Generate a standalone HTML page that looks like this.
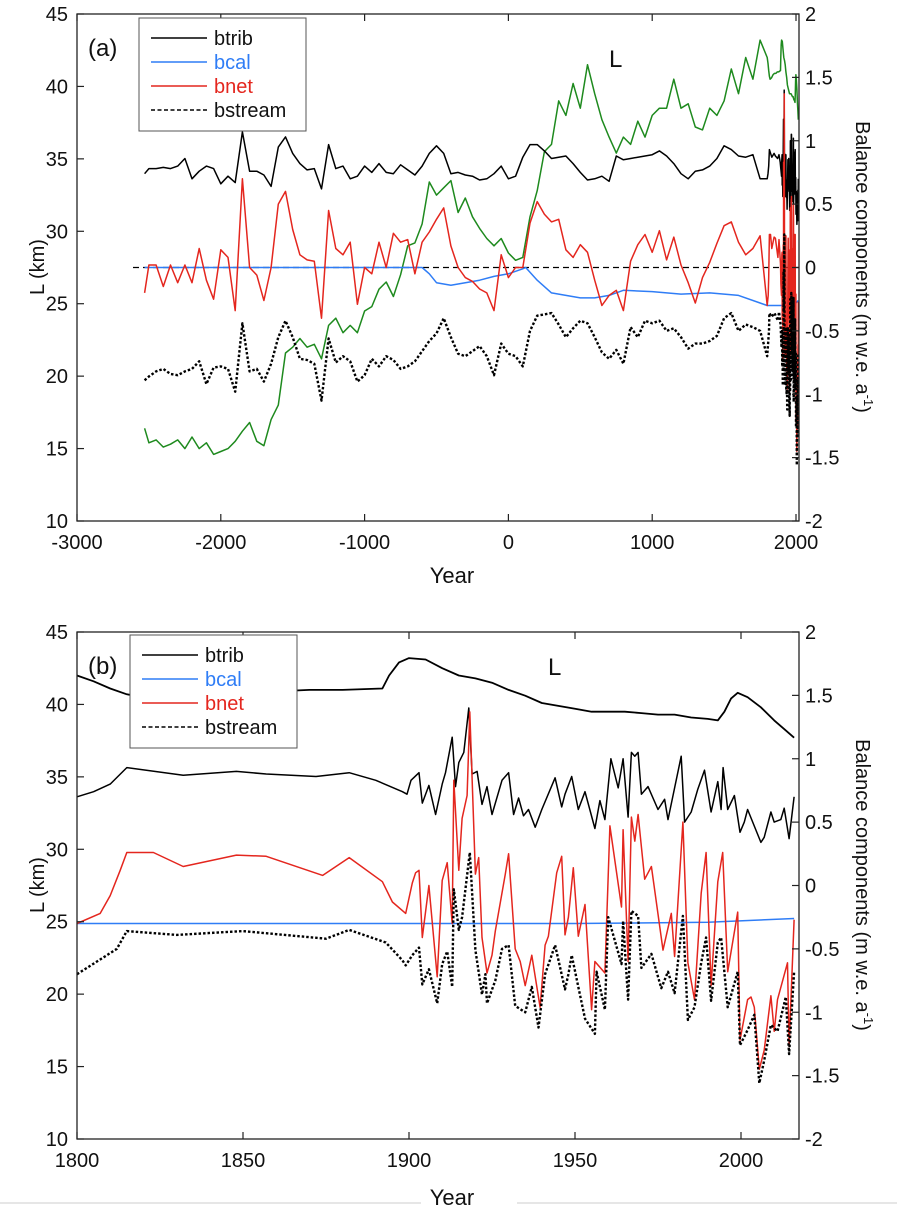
<!DOCTYPE html>
<html><head><meta charset="utf-8"><style>
html,body{margin:0;padding:0;background:#fff;}
svg{display:block;font-family:"Liberation Sans",Arial,sans-serif;}
</style></head><body>
<svg id="fig" width="897" height="1206" viewBox="0 0 897 1206" xmlns="http://www.w3.org/2000/svg"></svg>
<script>
// ---------- Panel (a) data (50-yr sampled) ----------
const aYears = [-2530,-2500,-2450,-2400,-2350,-2300,-2250,-2200,-2150,-2100,-2050,-2000,-1950,-1900,-1850,-1800,-1750,-1700,-1650,-1600,-1550,-1500,-1450,-1400,-1350,-1300,-1250,-1200,-1150,-1100,-1050,-1000,-950,-900,-850,-800,-750,-700,-650,-600,-550,-500,-450,-400,-350,-300,-250,-200,-150,-100,-50,0,50,100,150,200,250,300,350,400,450,500,550,600,650,700,750,800,850,900,950,1000,1050,1100,1150,1200,1250,1300,1350,1400,1450,1500,1550,1600,1650,1700,1750];
const aLength = [16.4,15.4,15.6,15.1,15.3,15.6,15.0,15.8,15.0,15.4,14.6,14.8,15.0,15.5,16.2,16.8,15.5,15.2,17.0,18.0,21.6,22.0,22.6,22.0,22.2,21.2,23.5,24.0,23.0,23.5,23.0,24.5,24.8,26.0,26.5,25.5,27.0,29.0,29.2,30.5,33.4,32.5,33.0,33.5,31.3,32.3,31.0,30.2,29.5,29.0,29.5,28.5,28.0,28.2,31.0,32.8,35.5,36.0,39.0,38.0,40.2,38.5,41.5,39.5,37.7,36.5,35.4,36.5,36.0,37.6,36.5,38.0,38.5,38.5,40.5,38.5,38.8,37.2,37.0,38.5,38.0,39.0,41.2,39.5,42.0,40.5,43.2];
const aBtrib = [0.74,0.78,0.78,0.79,0.78,0.8,0.86,0.7,0.76,0.8,0.78,0.66,0.72,0.67,1.07,0.76,0.76,0.73,0.64,0.95,1.03,0.9,0.82,0.77,0.78,0.62,0.97,0.78,0.8,0.7,0.72,0.8,0.75,0.82,0.75,0.74,0.81,0.77,0.73,0.8,0.9,0.96,0.9,0.74,0.75,0.73,0.72,0.69,0.7,0.74,0.8,0.7,0.72,0.87,0.97,0.97,0.92,0.86,0.87,0.88,0.82,0.75,0.69,0.7,0.72,0.68,0.88,0.85,0.86,0.87,0.88,0.89,0.92,0.88,0.82,0.74,0.7,0.76,0.77,0.8,0.86,0.96,0.93,0.88,0.87,0.89,0.7];
const aBnet = [-0.2,0.02,0.02,-0.15,0.02,-0.12,0.02,-0.12,0.15,-0.1,-0.25,0.14,0.08,-0.34,0.7,0.0,-0.06,-0.26,0.0,0.5,0.6,0.3,0.1,0.06,0.05,-0.4,0.45,0.15,0.1,0.2,-0.29,0.0,-0.05,0.2,0.0,0.27,0.2,0.22,-0.05,0.2,0.28,0.38,0.47,0.17,0.0,-0.08,-0.11,-0.17,-0.2,-0.34,0.1,-0.08,0.0,0.0,0.35,0.52,0.42,0.36,0.38,0.14,0.08,0.18,0.12,-0.1,-0.3,-0.22,-0.18,-0.34,0.05,0.18,0.26,0.12,0.29,0.06,0.24,0.02,-0.12,-0.28,-0.08,0.04,0.19,0.33,0.36,0.2,0.1,0.15,0.25];
const aBstream = [-0.89,-0.86,-0.82,-0.8,-0.84,-0.85,-0.82,-0.8,-0.74,-0.92,-0.79,-0.78,-0.8,-0.98,-0.44,-0.82,-0.8,-0.9,-0.76,-0.55,-0.42,-0.55,-0.72,-0.73,-0.76,-1.05,-0.56,-0.75,-0.7,-0.74,-0.9,-0.85,-0.72,-0.78,-0.7,-0.73,-0.8,-0.78,-0.74,-0.66,-0.58,-0.52,-0.4,-0.55,-0.68,-0.7,-0.66,-0.62,-0.7,-0.85,-0.6,-0.68,-0.7,-0.78,-0.5,-0.38,-0.37,-0.36,-0.45,-0.55,-0.48,-0.42,-0.44,-0.55,-0.67,-0.72,-0.65,-0.76,-0.47,-0.55,-0.42,-0.44,-0.42,-0.5,-0.48,-0.55,-0.64,-0.6,-0.6,-0.58,-0.54,-0.4,-0.36,-0.5,-0.45,-0.47,-0.5];
const aBcalYears = [-2530,-600,-550,-500,-400,-300,-200,-100,0,100,120,200,300,400,500,600,700,800,1000,1200,1400,1600,1750];
const aBcal = [0,0,-0.05,-0.12,-0.14,-0.12,-0.1,-0.07,-0.05,-0.01,0,-0.1,-0.2,-0.22,-0.24,-0.24,-0.22,-0.18,-0.19,-0.21,-0.2,-0.22,-0.28];

// ---------- Panel (b) data (1800-2016) ----------
const bLenYears = [1800,1805,1810,1815,1820,1830,1840,1850,1860,1870,1880,1892,1894,1897,1900,1905,1910,1915,1920,1925,1930,1935,1940,1945,1950,1955,1960,1965,1970,1975,1980,1985,1990,1993,1995,1997,1999,2002,2006,2010,2013,2016];
const bLength = [42,41.6,41.1,40.7,40.5,40.6,40.8,40.9,40.9,41.0,41.0,41.1,42.0,42.9,43.2,43.1,42.5,42.0,41.8,41.5,41.0,40.6,40.1,39.9,39.7,39.5,39.5,39.5,39.4,39.3,39.3,39.1,39.0,38.9,39.5,40.4,40.8,40.5,39.8,38.9,38.3,37.7];
const bTribYears = [1800,1805,1810,1815,1832,1848,1857,1872,1882,1890,1898,1899.4,1900.6,1903,1904,1906,1908,1910,1911,1913,1914,1915,1916.5,1918,1919,1920.5,1922,1923.5,1925,1928,1930,1931.5,1933,1934.5,1936,1938,1940,1944,1946,1947,1949,1951,1953,1956,1957.5,1959,1960.8,1963,1964.5,1966,1967,1968,1969,1970,1972,1975,1977,1978,1982,1983,1985,1987,1989,1991,1993,1994,1994.6,1996,1998,1999.7,2001,2002,2006,2007,2009,2010,2012,2013,2014.5,2016];
const bTrib = [0.7,0.74,0.8,0.93,0.87,0.9,0.88,0.86,0.89,0.83,0.74,0.72,0.83,0.89,0.65,0.79,0.56,0.8,0.89,1.17,0.78,0.97,1.05,1.4,0.88,0.9,0.64,0.78,0.56,0.83,0.89,0.56,0.69,0.55,0.6,0.46,0.6,0.85,0.62,0.72,0.86,0.6,0.74,0.45,0.67,0.52,1.0,0.77,1.0,0.54,1.05,1.02,1.05,0.72,0.78,0.6,0.68,0.52,1.02,0.5,0.58,0.76,0.91,0.58,0.82,0.6,0.93,0.6,0.71,0.42,0.5,0.6,0.34,0.38,0.58,0.5,0.52,0.61,0.37,0.7];
const bNetYears = [1800,1807,1810,1813,1815,1823,1832,1848,1857,1874,1882,1892,1895,1899,1901,1902,1903,1904,1906,1908.5,1910,1911.5,1913,1913.5,1915,1916,1917.5,1918.3,1920,1921,1922,1923.5,1925,1926,1929,1930,1932,1933.5,1935,1937,1939.5,1941,1942,1944.5,1946,1947,1948,1949.5,1951,1953,1955,1956,1959,1960.5,1964,1964.5,1966,1967,1968,1969,1971,1973,1976.5,1979,1980,1982.5,1984,1986,1988,1989.5,1991,1993,1994.5,1996,1999,1999.7,2002,2003,2004,2005.5,2007,2009,2010,2011,2014,2014.5,2016];
const bNet = [-0.3,-0.22,-0.08,0.12,0.26,0.26,0.15,0.24,0.23,0.08,0.22,0.03,-0.13,-0.22,0.02,0.1,0.12,-0.41,0.0,-0.72,0.04,0.18,-0.3,0.83,0.12,0.53,0.71,1.37,0.09,0.22,-0.41,-0.69,-0.55,-0.36,0.09,0.25,-0.5,-0.6,-0.79,-0.55,-0.96,-0.47,-0.4,0.1,0.23,-0.39,-0.25,0.14,-0.4,-0.15,-0.98,-0.6,-0.69,0.47,-0.17,0.44,-0.6,0.54,0.35,0.56,0.05,0.15,-0.51,-0.22,-0.56,0.5,-0.61,-0.9,-0.06,0.26,-0.79,0.03,0.26,-0.68,-0.21,-1.22,-0.9,-0.88,-0.96,-1.45,-1.3,-0.87,-1.15,-0.9,-0.61,-1.27,-0.27];
const bStreamYears = [1800,1812,1815,1830,1850,1875,1882,1893,1898,1899,1901,1903,1904,1906,1908.5,1910,1911.5,1913,1913.5,1915,1916,1918.3,1920,1922,1923,1923.5,1926,1928,1930,1932,1935,1937,1939,1941,1944,1947,1948,1949,1951,1953,1956,1956.5,1959,1960,1964,1964.5,1966,1967,1969,1970,1973,1976,1978,1980,1982.5,1984,1986,1988,1989.5,1991,1993,1994,1996,1999,1999.7,2002,2004,2005.5,2007,2009,2011,2013.5,2014.5,2016];
const bStream = [-0.7,-0.5,-0.36,-0.39,-0.36,-0.42,-0.35,-0.45,-0.59,-0.63,-0.55,-0.49,-0.78,-0.66,-0.93,-0.62,-0.52,-0.8,-0.03,-0.35,-0.25,0.26,-0.51,-0.86,-0.7,-0.93,-0.75,-0.5,-0.47,-0.95,-1.0,-0.8,-1.12,-0.7,-0.47,-0.82,-0.7,-0.55,-0.8,-1.05,-1.17,-0.68,-0.98,-0.25,-0.62,-0.28,-0.9,-0.2,-0.24,-0.65,-0.54,-0.81,-0.68,-0.85,-0.24,-1.06,-0.96,-0.61,-0.41,-0.91,-0.45,-0.41,-0.96,-0.68,-1.26,-1.14,-1.02,-1.56,-1.38,-1.1,-1.15,-0.88,-1.33,-0.68];
const bCalYears = [1800,1850,1900,1950,1990,2016];
const bCal = [-0.3,-0.3,-0.3,-0.3,-0.29,-0.26];

// ---------- ticks ----------
const leftTicks = [10,15,20,25,30,35,40,45];
const rightTicks = [-2,-1.5,-1,-0.5,0,0.5,1,1.5,2];
const aXTicks = [-3000,-2000,-1000,0,1000,2000];
const bXTicks = [1800,1850,1900,1950,2000];

const NS = "http://www.w3.org/2000/svg";
const svg = document.getElementById('fig');
function el(tag, attrs, parent){ const e=document.createElementNS(NS,tag); for(const k in attrs) e.setAttribute(k,attrs[k]); (parent||svg).appendChild(e); return e; }

const L=77, R=799;
function makePanel(cfg){
  const top=cfg.top, bot=cfg.top+507;
  const yL = v => bot - (v-10)*(507/35);
  const yR = v => top + 253.5 - v*(507/4);
  const x = cfg.x;
  const g = el('g',{});
  
  
  function line(xs, vs, yf, color, w, dash, name){
    const n=Math.min(xs.length,vs.length);
    let d=''; for(let i=0;i<n;i++){ d+=(i?'L':'M')+x(xs[i]).toFixed(1)+','+yf(vs[i]).toFixed(1); }
    const p=el('path',{d:d,fill:'none',stroke:color,'stroke-width':w,'stroke-linejoin':'round'},g);
    if(dash) p.setAttribute('stroke-dasharray',dash);
    
    
  }
  if(cfg.zeroLine){
    const z=el('line',{x1:133,x2:R,y1:yR(0),y2:yR(0),stroke:'#000','stroke-width':1.3,'stroke-dasharray':'6,4'},g);
    
    
  }
  cfg.series.forEach(s=>line(s.xs,s.vs,s.axis==='L'?yL:yR,s.color,s.w,s.dash,s.name));
  const fr=el('rect',{x:L,y:top,width:R-L,height:bot-top,fill:'none',stroke:'#222','stroke-width':1.3},g);
  
  
  leftTicks.forEach(v=>{
    el('line',{x1:L,x2:L+7,y1:yL(v),y2:yL(v),stroke:'#222','stroke-width':1.2},g);
    const t=el('text',{x:68,y:yL(v)+7,'text-anchor':'end','font-size':20,fill:'#111'},g); t.textContent=v;
    
    
  });
  rightTicks.forEach(v=>{
    el('line',{x1:R-7,x2:R,y1:yR(v),y2:yR(v),stroke:'#222','stroke-width':1.2},g);
    const t=el('text',{x:805,y:yR(v)+7,'font-size':20,fill:'#111'},g); t.textContent=v;
    
    
  });
  cfg.xTicks.forEach(v=>{
    const xx=x(v);
    el('line',{x1:xx,x2:xx,y1:bot,y2:bot-7,stroke:'#222','stroke-width':1.2},g);
    el('line',{x1:xx,x2:xx,y1:top,y2:top+7,stroke:'#222','stroke-width':1.2},g);
    const t=el('text',{x:xx,y:bot+28,'text-anchor':'middle','font-size':20,fill:'#111'},g); t.textContent=v;
    
    
  });
  const yt=el('text',{transform:`translate(44,${top+253}) rotate(-90)`,'text-anchor':'middle','font-size':20,fill:'#111'},g); yt.textContent='L (km)';
  
  
  const rt=el('text',{transform:`translate(856,${top+253}) rotate(90)`,'text-anchor':'middle','font-size':20,fill:'#111'},g);
  rt.innerHTML='Balance components (m w.e. a<tspan dy="-8" font-size="13">-1</tspan><tspan dy="8">)</tspan>';
  
  
  const xt=el('text',{x:452,y:cfg.yearY,'text-anchor':'middle','font-size':22,fill:'#111'},g); xt.textContent='Year';
  
  
  const pl=el('text',{x:88,y:top+42,'font-size':24,fill:'#111'},g); pl.textContent=cfg.label;
  
  
  const lm=el('text',{x:cfg.Lx,y:cfg.Ly,'font-size':24,fill:'#111'},g); lm.textContent='L';
  
  
  const lg=el('g',{},g);
  
  
  const lx=cfg.leg[0], ly=cfg.leg[1];
  el('rect',{x:lx,y:ly,width:167,height:113,fill:'#fff',stroke:'#555','stroke-width':1},lg);
  const ents=[['btrib','#000','#111',null],['bcal','#2f7df6','#2f7df6',null],['bnet','#e4261e','#e4261e',null],['bstream','#000','#111','4,2.5']];
  ents.forEach((e,i)=>{
    const yy=ly+20+i*24;
    const ln=el('line',{x1:lx+12,x2:lx+68,y1:yy,y2:yy,stroke:e[1],'stroke-width':1.6},lg);
    if(e[3]) ln.setAttribute('stroke-dasharray',e[3]);
    
    
    const t=el('text',{x:lx+75,y:yy+7,'font-size':20,fill:e[2]},lg); t.textContent=e[0];
    
    
  });
}

const xa = yr => 77 + (yr+3000)*0.1438;
const xb = yr => 77 + (yr-1800)*3.32;
const cat = (a,b)=>a.concat(b);

makePanel({name:'panel-a',top:14,x:xa,xTicks:aXTicks,yearY:583,label:'(a)',Lx:609,Ly:67,leg:[139,18],zeroLine:true,
  series:[
    {xs:cat(aYears,bLenYears),vs:cat(aLength,bLength),axis:'L',color:'#1e8a1e',w:1.5,name:'glacier-length-line'},
    {xs:cat(aYears,bTribYears),vs:cat(aBtrib,bTrib),axis:'R',color:'#000',w:1.5,name:'btrib-line'},
    {xs:cat(aBcalYears,bCalYears),vs:cat(aBcal,bCal),axis:'R',color:'#2f7df6',w:1.5,name:'bcal-line'},
    {xs:cat(aYears,bNetYears),vs:cat(aBnet,bNet),axis:'R',color:'#e4261e',w:1.5,name:'bnet-line'},
    {xs:cat(aYears,bStreamYears),vs:cat(aBstream,bStream),axis:'R',color:'#000',w:2.4,dash:'2.5,2',name:'bstream-line'}
  ]});
makePanel({name:'panel-b',top:632,x:xb,xTicks:bXTicks,yearY:1205,label:'(b)',Lx:548,Ly:675,leg:[130,635],zeroLine:false,
  series:[
    {xs:bLenYears,vs:bLength,axis:'L',color:'#000',w:1.8,name:'glacier-length-line'},
    {xs:bCalYears,vs:bCal,axis:'R',color:'#2f7df6',w:1.5,name:'bcal-line'},
    {xs:bTribYears,vs:bTrib,axis:'R',color:'#000',w:1.5,name:'btrib-line'},
    {xs:bNetYears,vs:bNet,axis:'R',color:'#e4261e',w:1.5,name:'bnet-line'},
    {xs:bStreamYears,vs:bStream,axis:'R',color:'#000',w:2.4,dash:'2.5,2',name:'bstream-line'}
  ]});
const sep1=el('line',{x1:0,x2:421,y1:1203,y2:1203,stroke:'#ddd','stroke-width':1.5});


const sep2=el('line',{x1:517,x2:897,y1:1203,y2:1203,stroke:'#ddd','stroke-width':1.5});


</script>
</body></html>
